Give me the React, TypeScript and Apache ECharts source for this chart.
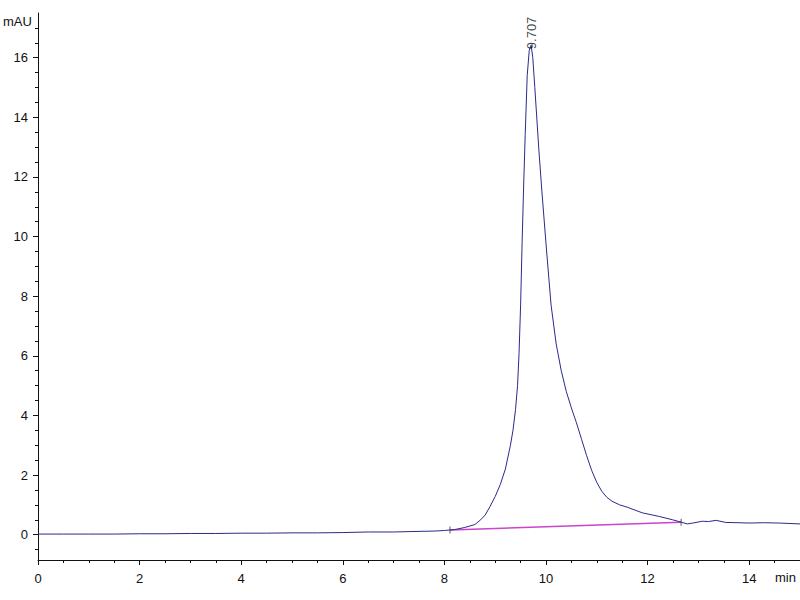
import React, { useEffect, useRef } from "react";
import * as echarts from "echarts";

// Chromatogram trace (retention time in min, absorbance in mAU)
const traceTime = [
  0, 0.5, 1.0, 1.5, 2.0, 2.5, 3.0, 3.5, 4.0, 4.5, 5.0, 5.5, 6.0, 6.5, 7.0, 7.5, 7.8, 8.0, 8.2, 8.4,
  8.6, 8.7, 8.8, 8.9, 9.0, 9.1, 9.2, 9.3, 9.35, 9.4, 9.44, 9.47, 9.5, 9.53, 9.56, 9.59, 9.63, 9.67, 9.707,
  9.74, 9.78, 9.86, 9.92, 10.01, 10.1, 10.2, 10.3, 10.4, 10.5, 10.6, 10.7, 10.8, 10.9, 11.0, 11.1, 11.2,
  11.3, 11.45, 11.6, 11.9, 12.23, 12.49, 12.66, 12.78, 12.89, 13.08, 13.2, 13.35, 13.54, 13.8, 14.0,
  14.3, 14.59, 15.0,
];
const traceSignal = [
  0.02, 0.02, 0.02, 0.02, 0.03, 0.03, 0.04, 0.04, 0.05, 0.05, 0.06, 0.06, 0.07, 0.09, 0.09, 0.11, 0.12,
  0.14, 0.17, 0.24, 0.34, 0.48, 0.65, 0.95, 1.28, 1.68, 2.2, 3.0, 3.5, 4.2, 5.0, 6.1, 7.7, 9.8, 11.7, 13.4,
  15.4, 16.25, 16.42, 16.0, 15.0, 12.9, 11.5, 9.55, 7.7, 6.4, 5.5, 4.8, 4.25, 3.75, 3.2, 2.65, 2.15, 1.75,
  1.45, 1.25, 1.12, 1.0, 0.92, 0.73, 0.61, 0.5, 0.42, 0.36, 0.39, 0.45, 0.44, 0.48, 0.41, 0.4, 0.39, 0.4,
  0.39, 0.36,
];

// Integration baseline
const baselineTime = [8.11, 12.66];
const baselineSignal = [0.16, 0.42];

// Peak annotation
const peakTime = [9.707];
const peakSignal = [16.42];
const peakLabels = ["9.707"];

// Axis ticks
const xMajorTicks = [0, 2, 4, 6, 8, 10, 12, 14];
const xMinorTicks = [0.5, 1, 1.5, 2.5, 3, 3.5, 4.5, 5, 5.5, 6.5, 7, 7.5, 8.5, 9, 9.5, 10.5, 11, 11.5, 12.5, 13, 13.5, 14.5];
const yMajorTicks = [0, 2, 4, 6, 8, 10, 12, 14, 16];
const yMinorTicks = [-0.5, 0.5, 1, 1.5, 2.5, 3, 3.5, 4.5, 5, 5.5, 6.5, 7, 7.5, 8.5, 9, 9.5, 10.5, 11, 11.5, 12.5, 13, 13.5, 14.5, 15, 15.5, 16.5, 17];

const X_MIN = 0;
const X_MAX = 15;
const Y_MIN = -0.85;
const Y_MAX = 17.5;

const FONT = "'Liberation Sans Narrow', 'Liberation Sans', Arial, sans-serif";

export default function App() {
  const ref = useRef<HTMLDivElement>(null);

  useEffect(() => {
    if (!ref.current) return;
    const chart = echarts.init(ref.current, undefined, { renderer: "svg" });

    const axisColor = "#111";
    const baseX = {
      type: "value",
      min: X_MIN,
      max: X_MAX,
      position: "bottom",
      splitLine: { show: false },
    };
    const baseY = {
      type: "value",
      min: Y_MIN,
      max: Y_MAX,
      position: "left",
      splitLine: { show: false },
    };

    chart.setOption({
      animation: false,
      backgroundColor: "#fff",
      grid: { left: 38, right: 0, top: 13, bottom: 40, containLabel: false },
      xAxis: [
        {
          ...baseX,
          axisLine: { show: true, onZero: false, lineStyle: { color: axisColor, width: 1 } },
          axisTick: { show: true, length: 5, customValues: xMajorTicks, lineStyle: { color: axisColor } },
          axisLabel: {
            show: true,
            customValues: xMajorTicks,
            margin: 12,
            color: "#111",
            fontSize: 13,
            fontFamily: FONT,
          },
        },
        {
          ...baseX,
          axisLine: { show: false, onZero: false },
          axisTick: { show: true, length: 3, customValues: xMinorTicks, lineStyle: { color: axisColor } },
          axisLabel: { show: false },
        },
      ],
      yAxis: [
        {
          ...baseY,
          axisLine: { show: true, onZero: false, lineStyle: { color: axisColor, width: 1 } },
          axisTick: { show: true, length: 5, customValues: yMajorTicks, lineStyle: { color: axisColor } },
          axisLabel: {
            show: true,
            customValues: yMajorTicks,
            margin: 10,
            color: "#111",
            fontSize: 13,
            fontFamily: FONT,
          },
        },
        {
          ...baseY,
          axisLine: { show: false, onZero: false },
          axisTick: { show: true, length: 3, customValues: yMinorTicks, lineStyle: { color: axisColor } },
          axisLabel: { show: false },
        },
      ],
      graphic: [
        {
          type: "text",
          left: 3,
          top: 15,
          style: { text: "mAU", fill: "#111", font: `13px ${FONT}` },
        },
        {
          type: "text",
          left: 775,
          top: 571,
          style: { text: "min", fill: "#111", font: `13px ${FONT}` },
        },
      ],
      series: [
        {
          type: "line",
          name: "Trace",
          data: traceTime.map((t, i) => [t, traceSignal[i]]),
          showSymbol: false,
          symbol: "none",
          lineStyle: { color: "#2a2a8a", width: 1 },
          z: 3,
        },
        {
          type: "line",
          name: "Baseline",
          data: baselineTime.map((t, i) => [t, baselineSignal[i]]),
          showSymbol: false,
          symbol: "none",
          lineStyle: { color: "#cc44cc", width: 1.5 },
          z: 2,
        },
        {
          type: "scatter",
          name: "Baseline marks",
          data: baselineTime.map((t, i) => [t, baselineSignal[i]]),
          symbol: "rect",
          symbolSize: [1, 7],
          itemStyle: { color: "#333" },
          z: 4,
        },
        {
          type: "scatter",
          name: "Peak",
          data: peakTime.map((t, i) => [t, peakSignal[i]]),
          symbolSize: 0,
          label: {
            show: true,
            formatter: (p: any) => peakLabels[p.dataIndex],
            position: "top",
            distance: -4,
            rotate: 90,
            align: "left",
            verticalAlign: "middle",
            color: "#111",
            fontSize: 13,
            fontFamily: FONT,
          },
          z: 5,
        },
      ],
    });

    return () => chart.dispose();
  }, []);

  return (
    <div
      ref={ref}
      style={{ position: "fixed", left: 0, top: 0, width: 800, height: 600, background: "#fff" }}
    />
  );
}
